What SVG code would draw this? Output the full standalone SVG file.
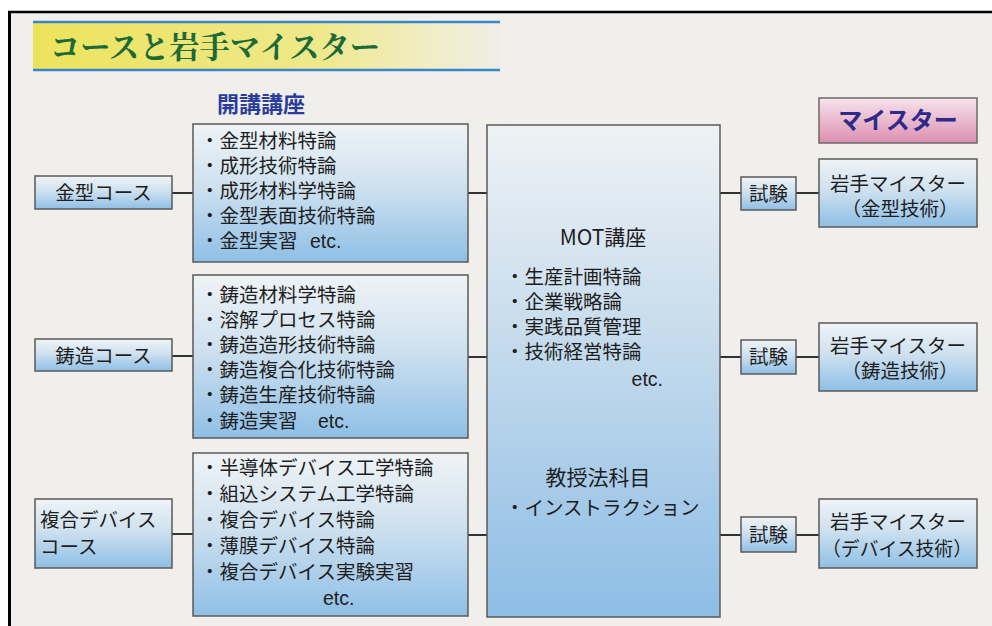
<svg xmlns="http://www.w3.org/2000/svg" width="992" height="626" viewBox="0 0 992 626">
<defs>
<linearGradient id="gBlue" x1="0" y1="0" x2="0" y2="1">
<stop offset="0" stop-color="#eff3f6"/>
<stop offset="0.45" stop-color="#cfe1ef"/>
<stop offset="1" stop-color="#8ebfe6"/>
</linearGradient>
<linearGradient id="gMot" x1="0" y1="0" x2="0" y2="1">
<stop offset="0" stop-color="#eef2f5"/>
<stop offset="0.4" stop-color="#c9dded"/>
<stop offset="1" stop-color="#8dbde5"/>
</linearGradient>
<linearGradient id="gPink" x1="0" y1="0" x2="0" y2="1">
<stop offset="0" stop-color="#f7e3ec"/>
<stop offset="1" stop-color="#dc8fb0"/>
</linearGradient>
<linearGradient id="gYellow" x1="0" y1="0" x2="1" y2="0">
<stop offset="0" stop-color="#ece35c"/>
<stop offset="0.6" stop-color="#efe88a"/>
<stop offset="0.85" stop-color="#f1edc6"/>
<stop offset="1" stop-color="#efeee6"/>
</linearGradient>
</defs>
<style>
.box{fill:url(#gBlue);stroke:#5a5a5a;stroke-width:1.5}
.mot{fill:url(#gMot);stroke:#5a5a5a;stroke-width:1.5}
.pink{fill:url(#gPink);stroke:#6a6a6a;stroke-width:1.5}
.t{font-family:"Noto Sans CJK JP","Noto Sans",sans-serif;font-size:19.5px;fill:#1e1e1e}
.c{text-anchor:middle}
.e{font-family:"Liberation Sans","Noto Sans",sans-serif}
.con line{stroke:#333;stroke-width:2}
</style>
<rect x="0" y="0" width="992" height="626" fill="#f0efeb"/>
<rect x="0" y="0" width="992" height="11" fill="#ffffff"/>
<rect x="0" y="11" width="8" height="615" fill="#ffffff"/>
<line x1="8" y1="12" x2="992" y2="12" stroke="#000" stroke-width="2.5"/>
<line x1="9.5" y1="11" x2="9.5" y2="626" stroke="#000" stroke-width="3"/>

<g id="title">
<rect x="33" y="23" width="467" height="47" fill="url(#gYellow)"/>
<line x1="33" y1="22" x2="500" y2="22" stroke="#3a86c8" stroke-width="2.5"/>
<line x1="33" y1="70" x2="500" y2="70" stroke="#3a86c8" stroke-width="2.5"/>
<text x="50" y="58" font-family="'Noto Serif CJK JP','Noto Sans CJK JP',serif" font-weight="bold" font-size="31" fill="#1c6a38" textLength="330" lengthAdjust="spacingAndGlyphs">コースと岩手マイスター</text>
</g>

<g id="heading-kaiko">
<text x="217" y="112" class="t" font-weight="bold" style="fill:#2b3c9c;font-size:22px">開講講座</text>
</g>

<g id="connectors" class="con">
<line x1="172" y1="193" x2="193" y2="193"/>
<line x1="172" y1="356" x2="193" y2="356"/>
<line x1="172" y1="534" x2="193" y2="534"/>
<line x1="468" y1="193" x2="487" y2="193"/>
<line x1="468" y1="357" x2="487" y2="357"/>
<line x1="468" y1="535" x2="487" y2="535"/>
<line x1="720" y1="193" x2="741" y2="193"/>
<line x1="796" y1="193" x2="819" y2="193"/>
<line x1="720" y1="357" x2="741" y2="357"/>
<line x1="796" y1="357" x2="819" y2="357"/>
<line x1="720" y1="535" x2="741" y2="535"/>
<line x1="796" y1="535" x2="819" y2="535"/>
</g>

<g id="course-kanagata">
<rect x="35" y="176" width="137" height="33" class="box"/>
<text x="103.5" y="200" class="t c">金型コース</text>
</g>
<g id="course-chuzo">
<rect x="35" y="339" width="137" height="32" class="box"/>
<text x="103.5" y="363" class="t c">鋳造コース</text>
</g>
<g id="course-device">
<rect x="35" y="499" width="137" height="69" class="box"/>
<text x="40" y="527" class="t">複合デバイス</text>
<text x="40" y="554" class="t">コース</text>
</g>

<g id="lectures-kanagata">
<rect x="193" y="124" width="275" height="138" class="box"/>
<text x="200" y="148" class="t">・金型材料特論</text>
<text x="200" y="173" class="t">・成形技術特論</text>
<text x="200" y="198" class="t">・成形材料学特論</text>
<text x="200" y="223" class="t">・金型表面技術特論</text>
<text x="200" y="248" class="t">・金型実習<tspan class="e" x="310">etc.</tspan></text>
</g>
<g id="lectures-chuzo">
<rect x="193" y="275" width="275" height="163" class="box"/>
<text x="200" y="302" class="t">・鋳造材料学特論</text>
<text x="200" y="327" class="t">・溶解プロセス特論</text>
<text x="200" y="352" class="t">・鋳造造形技術特論</text>
<text x="200" y="377" class="t">・鋳造複合化技術特論</text>
<text x="200" y="402" class="t">・鋳造生産技術特論</text>
<text x="200" y="428" class="t">・鋳造実習<tspan class="e" x="318">etc.</tspan></text>
</g>
<g id="lectures-device">
<rect x="193" y="453" width="275" height="163" class="box"/>
<text x="200" y="475" class="t">・半導体デバイス工学特論</text>
<text x="200" y="501" class="t">・組込システム工学特論</text>
<text x="200" y="527" class="t">・複合デバイス特論</text>
<text x="200" y="553" class="t">・薄膜デバイス特論</text>
<text x="200" y="579" class="t">・複合デバイス実験実習</text>
<text x="323" y="605" class="t e">etc.</text>
</g>

<g id="mot">
<rect x="487" y="125" width="233" height="492" class="mot"/>
<text x="603" y="245" class="t c" style="font-size:21px">MOT講座</text>
<text x="505" y="284" class="t">・生産計画特論</text>
<text x="505" y="309" class="t">・企業戦略論</text>
<text x="505" y="334" class="t">・実践品質管理</text>
<text x="505" y="359" class="t">・技術経営特論</text>
<text x="663" y="386" class="t e" text-anchor="end">etc.</text>
<text x="598" y="485" class="t c" style="font-size:21px">教授法科目</text>
<text x="505" y="515" class="t">・インストラクション</text>
</g>

<g id="meister-header">
<rect x="819" y="98" width="158" height="45" class="pink"/>
<text x="898" y="129" class="t c" font-weight="bold" style="font-size:24px;fill:#2d2a8a">マイスター</text>
</g>

<g id="exam-1">
<rect x="741" y="177" width="55" height="33" class="box"/>
<text x="768.5" y="201" class="t c">試験</text>
</g>
<g id="exam-2">
<rect x="741" y="340" width="55" height="34" class="box"/>
<text x="768.5" y="364" class="t c">試験</text>
</g>
<g id="exam-3">
<rect x="741" y="517" width="55" height="35" class="box"/>
<text x="768.5" y="542" class="t c">試験</text>
</g>

<g id="meister-kanagata">
<rect x="819" y="159" width="158" height="68" class="box"/>
<text x="898" y="191" class="t c">岩手マイスター</text>
<text x="900" y="216" class="t c">（金型技術）</text>
</g>
<g id="meister-chuzo">
<rect x="819" y="323" width="158" height="68" class="box"/>
<text x="898" y="353" class="t c">岩手マイスター</text>
<text x="900" y="378" class="t c">（鋳造技術）</text>
</g>
<g id="meister-device">
<rect x="819" y="499" width="158" height="69" class="box"/>
<text x="898" y="529" class="t c">岩手マイスター</text>
<text x="897" y="556" class="t c" textLength="150" lengthAdjust="spacingAndGlyphs">（デバイス技術）</text>
</g>
</svg>
